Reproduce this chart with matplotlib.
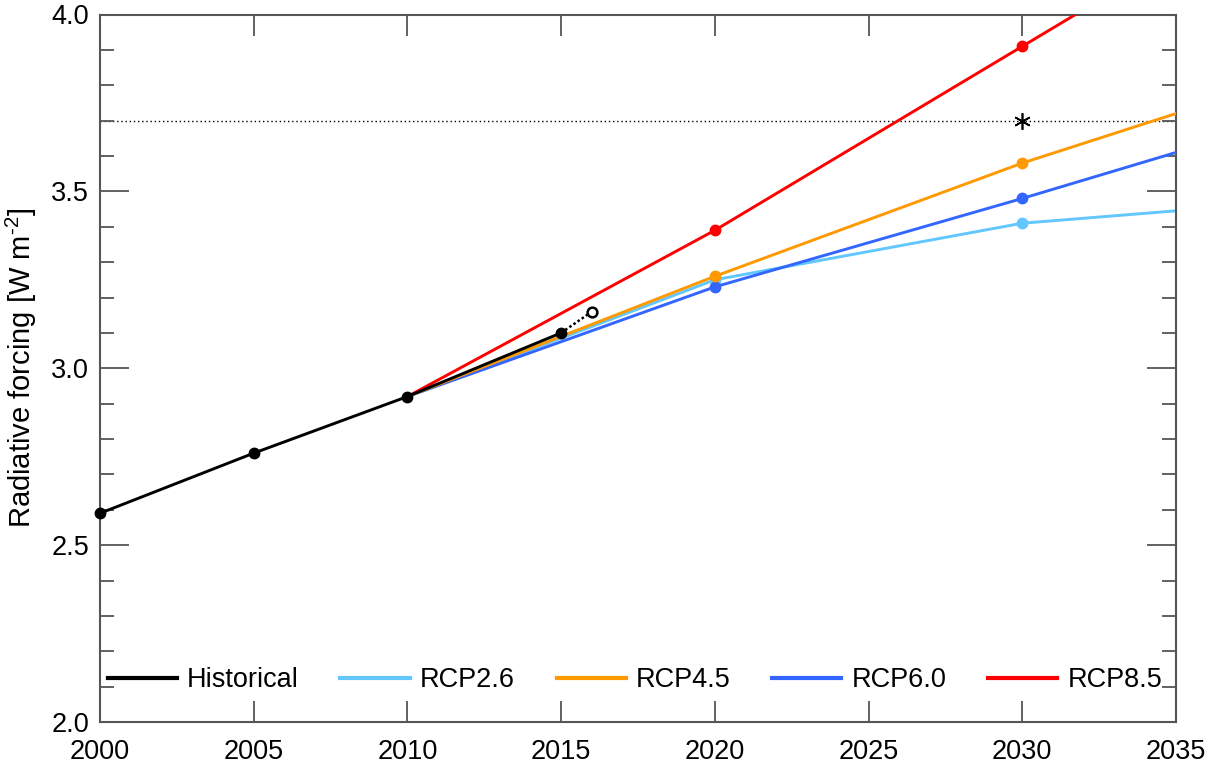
import matplotlib
matplotlib.use("Agg")
import matplotlib.pyplot as plt
from matplotlib.ticker import MultipleLocator

plt.rcParams['font.family'] = ['Liberation Sans', 'DejaVu Sans']
plt.rcParams['mathtext.fontset'] = 'custom'
plt.rcParams['mathtext.rm'] = 'Liberation Sans'
plt.rcParams['mathtext.it'] = 'Liberation Sans:italic'
plt.rcParams['axes.unicode_minus'] = False

# ---- data ----
hist_years = [2000, 2005, 2010, 2015]
hist_vals = [2.59, 2.76, 2.92, 3.10]
prelim_years = [2015, 2016]
prelim_vals = [3.10, 3.16]

rcp_years = [2010, 2020, 2030, 2040]
rcp26 = [2.92, 3.25, 3.41, 3.48]
rcp45 = [2.92, 3.26, 3.58, 3.86]
rcp60 = [2.92, 3.23, 3.48, 3.74]
rcp85 = [2.92, 3.39, 3.91, 4.43]

threshold = 3.70
star_year, star_val = 2030, 3.70

series_names = ['Historical', 'RCP2.6', 'RCP4.5', 'RCP6.0', 'RCP8.5']
colors = {'Historical': 'black', 'RCP2.6': '#62C6FF', 'RCP4.5': '#FF9900',
          'RCP6.0': '#3366FF', 'RCP8.5': '#FF0000'}

FS = 19.5

fig = plt.figure(figsize=(12.15, 7.65), dpi=100)
ax = fig.add_axes([100/1215, 1 - 722/765, (1176-100)/1215, (722-14.5)/765])

lw = 2.1
ms = 7.5
ax.axhline(threshold, color='black', lw=1.0, ls=(0, (1, 2)), zorder=1)

lines = {}
for name, vals, z in [('RCP2.6', rcp26, 2), ('RCP6.0', rcp60, 3),
                      ('RCP4.5', rcp45, 4), ('RCP8.5', rcp85, 5)]:
    l, = ax.plot(rcp_years, vals, color=colors[name], lw=lw, marker='o',
                 ms=ms, markevery=[1, 2], zorder=z, label=name)
    lines[name] = l

l, = ax.plot(hist_years, hist_vals, color='black', lw=lw, marker='o', ms=ms,
             zorder=6, label='Historical', clip_on=False)
lines['Historical'] = l
ax.plot(prelim_years, prelim_vals, color='black', lw=1.8, ls=(0, (1, 1)), zorder=6)
ax.plot(prelim_years[-1:], prelim_vals[-1:], marker='o', ms=7, mfc='white',
        mec='black', mew=1.8, ls='none', zorder=7)
ax.plot([star_year], [star_val], marker=(6, 2, 0), ms=12, color='black',
        mew=1.2, ls='none', zorder=7)

ax.set_xlim(2000, 2035)
ax.set_ylim(2.0, 4.0)
ax.xaxis.set_major_locator(MultipleLocator(5))
ax.yaxis.set_major_locator(MultipleLocator(0.5))
ax.yaxis.set_minor_locator(MultipleLocator(0.1))
ax.yaxis.set_major_formatter(matplotlib.ticker.FormatStrFormatter('%.1f'))

spine_col = '#555555'
for s in ax.spines.values():
    s.set_color(spine_col)
    s.set_linewidth(1.5)
ax.tick_params(axis='both', which='both', direction='in', colors=spine_col,
               labelcolor='black', labelsize=FS, width=1.3)
ax.tick_params(axis='x', which='major', length=15, top=True, pad=12)
ax.tick_params(axis='y', which='major', length=21, right=True, pad=8)
ax.tick_params(axis='y', which='minor', length=10, right=True)

ax.set_ylabel('Radiative forcing [W m$^{\\mathrm{\u20102}}$]', fontsize=21, labelpad=9)

leg_handles = [matplotlib.lines.Line2D([], [], color=colors[n], lw=3) for n in series_names]
ax.legend(leg_handles, series_names, ncol=5, loc='center left',
          bbox_to_anchor=(0.007, 0.059), frameon=False, fontsize=FS,
          handlelength=2.55, handletextpad=0.37, columnspacing=1.55,
          borderaxespad=0, borderpad=0)

fig.savefig('out.png', dpi=100)
